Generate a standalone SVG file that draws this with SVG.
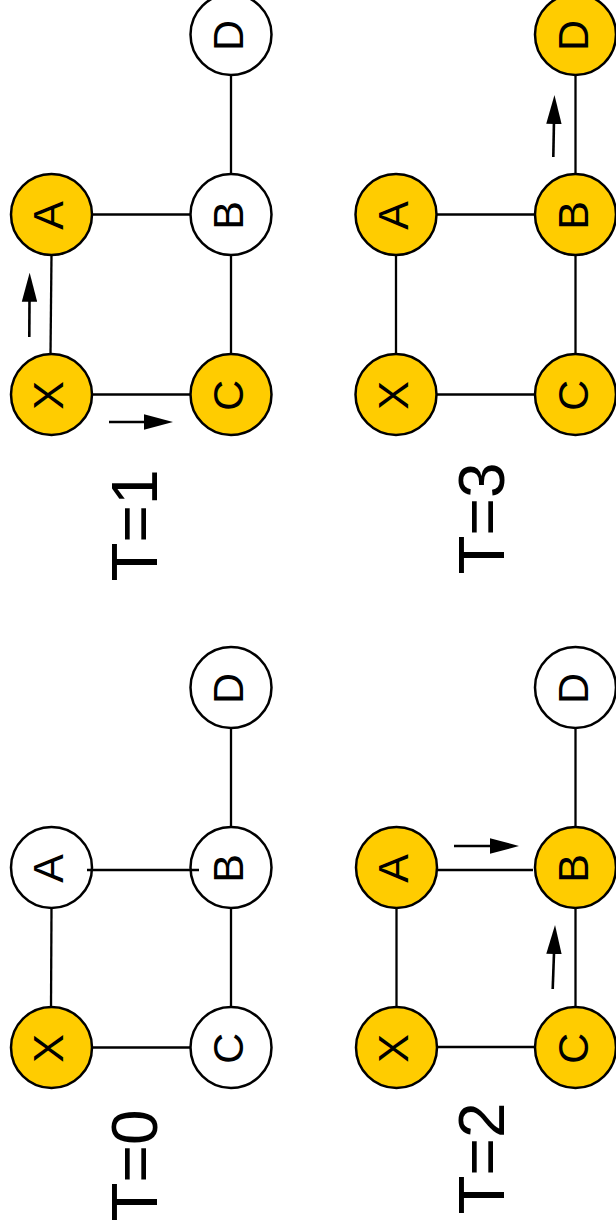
<svg xmlns="http://www.w3.org/2000/svg" width="616" height="1232" viewBox="0 0 616 1232">
  <style>
    .node circle { stroke: #000; stroke-width: 2.5; }
    .on circle { fill: #FFCC00; }
    .off circle { fill: #FFFFFF; }
    .node text { font-family: "Liberation Sans", Arial, sans-serif; font-size: 43px; fill: #000; text-anchor: middle; }
    .edge { stroke: #000; stroke-width: 2.3; fill: none; }
    .flow { stroke: #000; stroke-width: 2.6; fill: none; marker-end: url(#head); }
    .step { font-family: "Liberation Sans", Arial, sans-serif; font-size: 64px; fill: #000; }
  </style>
  <defs>
    <marker id="head" viewBox="0 0 29 16" refX="20" refY="8" markerWidth="29" markerHeight="16" markerUnits="userSpaceOnUse" orient="auto">
      <path d="M0,0.3 L29,8 L0,15.7 Z" fill="#000"/>
    </marker>
  </defs>
  <rect width="616" height="1232" fill="#FFFFFF"/>

  <!-- step labels, read bottom-to-top -->
  <text class="step" x="157" y="1221.5" transform="rotate(-90 157 1221.5)">T=0</text>
  <text class="step" x="157" y="581.5" transform="rotate(-90 157 581.5)">T=1</text>
  <text class="step" x="504" y="1214.5" transform="rotate(-90 504 1214.5)">T=2</text>
  <text class="step" x="504" y="574.5" transform="rotate(-90 504 574.5)">T=3</text>

  <!-- T=1 : top left -->
  <g id="t1-connectors">
    <line class="edge" x1="51.5" y1="255" x2="50.5" y2="354"/>
    <line class="edge" x1="92" y1="394.5" x2="190.5" y2="394.5"/>
    <line class="edge" x1="92" y1="214.5" x2="190.5" y2="214.5"/>
    <line class="edge" x1="231" y1="255" x2="231" y2="354"/>
    <line class="edge" x1="231" y1="75" x2="231" y2="174"/>
    <line class="flow" x1="29.3" y1="337" x2="29.6" y2="281.7"/>
    <line class="flow" x1="109" y1="422" x2="164" y2="422"/>
  </g>
  <g id="t1-X" class="node on"><circle cx="51.5" cy="394.5" r="40.5"/><text x="63.3" y="395.5" transform="rotate(-90 63.3 395.5)">X</text></g>
  <g id="t1-A" class="node on"><circle cx="51.5" cy="214.5" r="40.5"/><text x="63.3" y="215.5" transform="rotate(-90 63.3 215.5)">A</text></g>
  <g id="t1-C" class="node on"><circle cx="231" cy="394.5" r="40.5"/><text x="243" y="395.5" transform="rotate(-90 243 395.5)">C</text></g>
  <g id="t1-B" class="node off"><circle cx="231" cy="214.5" r="40.5"/><text x="243" y="215.5" transform="rotate(-90 243 215.5)">B</text></g>
  <g id="t1-D" class="node off"><circle cx="231" cy="34.5" r="40.5"/><text x="243" y="35.5" transform="rotate(-90 243 35.5)">D</text></g>

  <!-- T=3 : top right -->
  <g id="t3-connectors">
    <line class="edge" x1="396" y1="255" x2="396" y2="354"/>
    <line class="edge" x1="436.5" y1="394.5" x2="535" y2="394.5"/>
    <line class="edge" x1="436.5" y1="214.5" x2="535" y2="214.5"/>
    <line class="edge" x1="575.5" y1="255" x2="575.5" y2="354"/>
    <line class="edge" x1="575.5" y1="75" x2="575.5" y2="174"/>
    <line class="flow" x1="553.3" y1="157" x2="554.3" y2="104"/>
  </g>
  <g id="t3-X" class="node on"><circle cx="396" cy="394.5" r="40.5"/><text x="407.8" y="395.5" transform="rotate(-90 407.8 395.5)">X</text></g>
  <g id="t3-A" class="node on"><circle cx="396" cy="214.5" r="40.5"/><text x="407.8" y="215.5" transform="rotate(-90 407.8 215.5)">A</text></g>
  <g id="t3-C" class="node on"><circle cx="575.5" cy="394.5" r="40.5"/><text x="587.5" y="395.5" transform="rotate(-90 587.5 395.5)">C</text></g>
  <g id="t3-B" class="node on"><circle cx="575.5" cy="214.5" r="40.5"/><text x="587.5" y="215.5" transform="rotate(-90 587.5 215.5)">B</text></g>
  <g id="t3-D" class="node on"><circle cx="575.5" cy="34.5" r="40.5"/><text x="587.5" y="35.5" transform="rotate(-90 587.5 35.5)">D</text></g>

  <!-- T=0 : bottom left -->
  <g id="t0-connectors-under">
    <line class="edge" x1="51.5" y1="908" x2="51" y2="1007"/>
    <line class="edge" x1="92" y1="1047.5" x2="190.5" y2="1047.5"/>
    <line class="edge" x1="231" y1="908" x2="231" y2="1007"/>
    <line class="edge" x1="231" y1="728" x2="231" y2="827"/>
  </g>
  <g id="t0-X" class="node on"><circle cx="51.5" cy="1047.5" r="40.5"/><text x="63.3" y="1048.5" transform="rotate(-90 63.3 1048.5)">X</text></g>
  <g id="t0-A" class="node off"><circle cx="51.5" cy="867.5" r="40.5"/><text x="63.3" y="868.5" transform="rotate(-90 63.3 868.5)">A</text></g>
  <g id="t0-C" class="node off"><circle cx="231" cy="1047.5" r="40.5"/><text x="243" y="1048.5" transform="rotate(-90 243 1048.5)">C</text></g>
  <g id="t0-B" class="node off"><circle cx="231" cy="867.5" r="40.5"/><text x="243" y="868.5" transform="rotate(-90 243 868.5)">B</text></g>
  <g id="t0-D" class="node off"><circle cx="231" cy="687.5" r="40.5"/><text x="243" y="688.5" transform="rotate(-90 243 688.5)">D</text></g>
  <g id="t0-connectors-over">
    <line class="edge" x1="87" y1="870" x2="199" y2="870"/>
  </g>

  <!-- T=2 : bottom right -->
  <g id="t2-connectors">
    <line class="edge" x1="396.5" y1="908" x2="396.5" y2="1007"/>
    <line class="edge" x1="437" y1="1047" x2="535" y2="1047"/>
    <line class="edge" x1="437" y1="870" x2="533" y2="870"/>
    <line class="edge" x1="575.5" y1="908" x2="575.5" y2="1007"/>
    <line class="edge" x1="575.5" y1="728" x2="575.5" y2="827"/>
    <line class="flow" x1="454" y1="846" x2="510" y2="846"/>
    <line class="flow" x1="552.7" y1="989" x2="554.7" y2="934"/>
  </g>
  <g id="t2-X" class="node on"><circle cx="396.5" cy="1047.5" r="40.5"/><text x="408.3" y="1048.5" transform="rotate(-90 408.3 1048.5)">X</text></g>
  <g id="t2-A" class="node on"><circle cx="396.5" cy="867.5" r="40.5"/><text x="408.3" y="868.5" transform="rotate(-90 408.3 868.5)">A</text></g>
  <g id="t2-C" class="node on"><circle cx="575.5" cy="1047.5" r="40.5"/><text x="587.5" y="1048.5" transform="rotate(-90 587.5 1048.5)">C</text></g>
  <g id="t2-B" class="node on"><circle cx="575.5" cy="867.5" r="40.5"/><text x="587.5" y="868.5" transform="rotate(-90 587.5 868.5)">B</text></g>
  <g id="t2-D" class="node off"><circle cx="575.5" cy="687.5" r="40.5"/><text x="587.5" y="688.5" transform="rotate(-90 587.5 688.5)">D</text></g>
</svg>
